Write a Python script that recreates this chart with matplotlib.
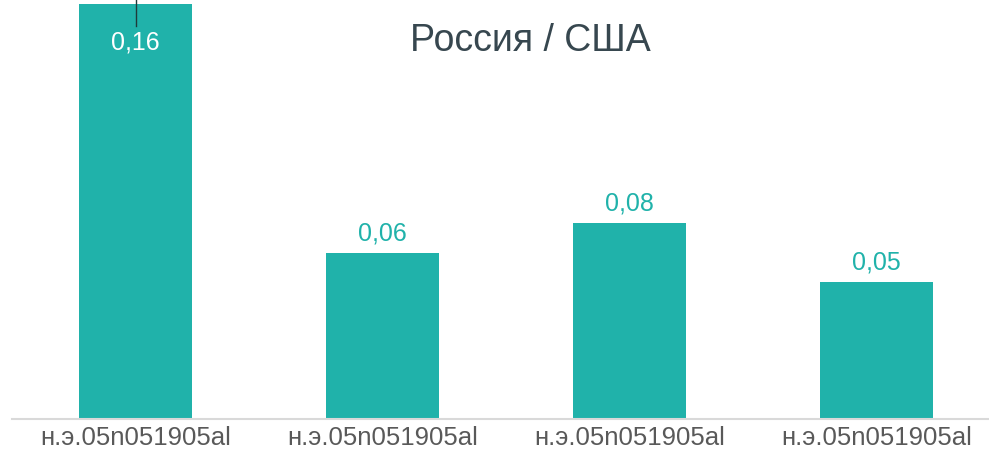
import matplotlib
matplotlib.use('Agg')
import matplotlib.pyplot as plt

TEAL = '#20B2AA'
TITLE_COLOR = '#37474F'
TICK_COLOR = '#595959'
AXIS_COLOR = '#D9D9D9'

categories = ['н.э.05n051905al', 'н.э.05n051905al', 'н.э.05n051905al', 'н.э.05n051905al']
values = [0.16, 0.0638, 0.0754, 0.0527]
labels = ['0,16', '0,06', '0,08', '0,05']

plt.rcParams['font.family'] = ['Liberation Sans', 'DejaVu Sans']

W, H = 989, 452
fig = plt.figure(figsize=(W / 100, H / 100), dpi=100)
# plot area in pixels: x 12..1000, y 5..420 (top bar is clipped)
ax = fig.add_axes([12 / W, (H - 420) / H, 988 / W, 415 / H])
ymax = 0.1596
ax.set_ylim(0, ymax)
ax.set_xlim(-0.5, len(values) - 0.5)

x = range(len(values))
ax.bar(x, values, width=113 / 247, color=TEAL, zorder=2)

for i, (v, lab) in enumerate(zip(values, labels)):
    if v > ymax:
        # value outside the plot: label inside the bar, white
        ax.text(i, ymax - 0.0143, lab, ha='center', va='center',
                fontsize=18, color='white', zorder=3)
        ax.plot([i, i], [ymax + 0.003, ymax - 0.0085], color='#1f3a3a', lw=1,
                zorder=3, clip_on=False)
    else:
        ax.annotate(lab, (i, v), xytext=(0, 6), textcoords='offset points',
                    ha='center', va='bottom', fontsize=18, color=TEAL)

ax.set_xticks(list(x))
ax.set_xticklabels(categories, fontsize=18.5, color=TICK_COLOR)
ax.tick_params(axis='x', length=0, pad=4.5)
ax.set_yticks([])
for s in ['top', 'left', 'right']:
    ax.spines[s].set_visible(False)
ax.spines['bottom'].set_color(AXIS_COLOR)
ax.spines['bottom'].set_linewidth(1.5)

fig.text(530 / W, 1 - 41 / H, 'Россия / США', ha='center', va='center',
         fontsize=27, color=TITLE_COLOR)

fig.savefig('out.png', dpi=100)
